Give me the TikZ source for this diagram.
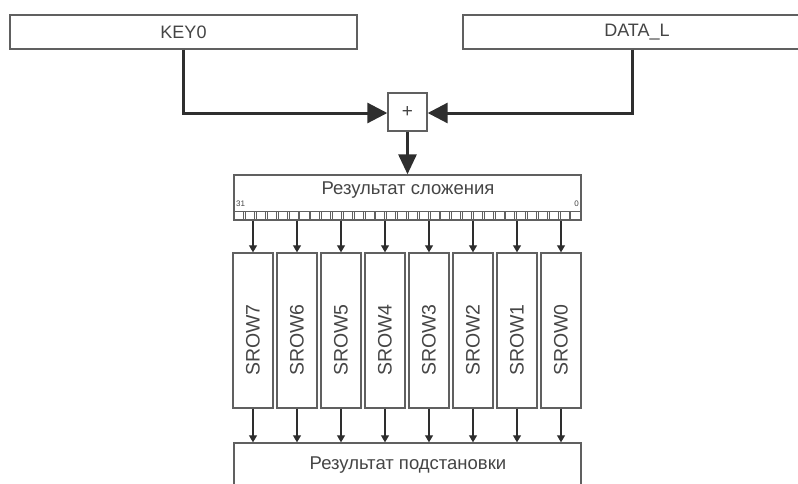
\documentclass[tikz,border=0pt]{standalone}
\usepackage{fontspec}
\setmainfont{Liberation Sans}
\usetikzlibrary{arrows.meta,calc}
\definecolor{boxline}{HTML}{606060}
\definecolor{txt}{HTML}{454545}
\definecolor{wire}{HTML}{2E2E2E}
\tikzset{
  box/.style={draw=boxline,line width=1.4pt,fill=white,inner sep=0pt,text=txt,font=\fontsize{18}{18}\selectfont},
  bus/.style={draw=wire,line width=3pt,-{Triangle[length=20pt,width=20pt]}},
  tap/.style={draw=wire,line width=1.2pt,-{Triangle[length=7pt,width=8pt]}},
  cell/.style={draw=boxline,line width=0.9pt},
  caption/.style={text=txt,font=\fontsize{18.5}{18.5}\selectfont},
}
\begin{document}
\begin{tikzpicture}[x=1pt,y=-1pt]
\useasboundingbox (0,0) rectangle (798,483);
\clip (0,0) rectangle (798,483);
% operands
\node[box,minimum width=347pt,minimum height=34pt] (key) at (183.5,32) {KEY0};
\node[box,minimum width=348pt,minimum height=34pt] (data) at (637,32) {DATA\_L};
% adder
\node[box,minimum width=39pt,minimum height=38pt,font=\fontsize{19}{19}\selectfont] (plus) at (407.5,112) {+};
\coordinate (kturn) at (183.5,113);
\coordinate (dturn) at (632,113);
\draw[bus] (key.south -| kturn) -- (kturn) -- (plus.west |- kturn);
\draw[bus] (data.south -| dturn) -- (dturn) -- (plus.east |- dturn);
% sum register
\node[box,minimum width=347pt,minimum height=45pt] (reg) at (407.5,197.5) {};
\node[caption] (regtxt) at (408,190) {Результат сложения};
\draw[bus,line width=3pt,-{Triangle[length=20pt,width=18pt]}] (plus.south) -- (plus.south |- reg.north);
\draw[cell] (reg.west |- 0,211) -- (reg.east |- 0,211);
\foreach \i in {0,...,31}{
  \pgfmathsetmacro{\xa}{234+10.84*\i+0.9}
  \pgfmathsetmacro{\xb}{234+10.84*(\i+1)-0.9}
  \draw[cell] (\xa,211) rectangle (\xb,220);
}
\node[text=txt,font=\fontsize{8}{8}\selectfont,anchor=west,inner sep=0pt] (b31) at (236,204) {31};
\node[text=txt,font=\fontsize{8}{8}\selectfont,anchor=east,inner sep=0pt] (b0) at (579,204) {0};
% substitution result
\node[box,minimum width=347pt,minimum height=70pt] (out) at (407.5,478) {};
\node[caption] (outtxt) at (408,465) {Результат подстановки};
% S-box rows
\foreach \k/\n in {0/7,1/6,2/5,3/4,4/3,5/2,6/1,7/0}{
  \pgfmathsetmacro{\cx}{253+44*\k}
  \node[box,minimum width=40pt,minimum height=155pt] (s\n) at (\cx,330.5) {};
  \node[text=txt,rotate=90,font=\fontsize{19.5}{19.5}\selectfont] (t\n) at (\cx,340) {SROW\n};
  \draw[tap] (s\n.north |- reg.south) -- (s\n.north);
  \draw[tap] (s\n.south) -- (s\n.south |- out.north);
}
\end{tikzpicture}
\end{document}
